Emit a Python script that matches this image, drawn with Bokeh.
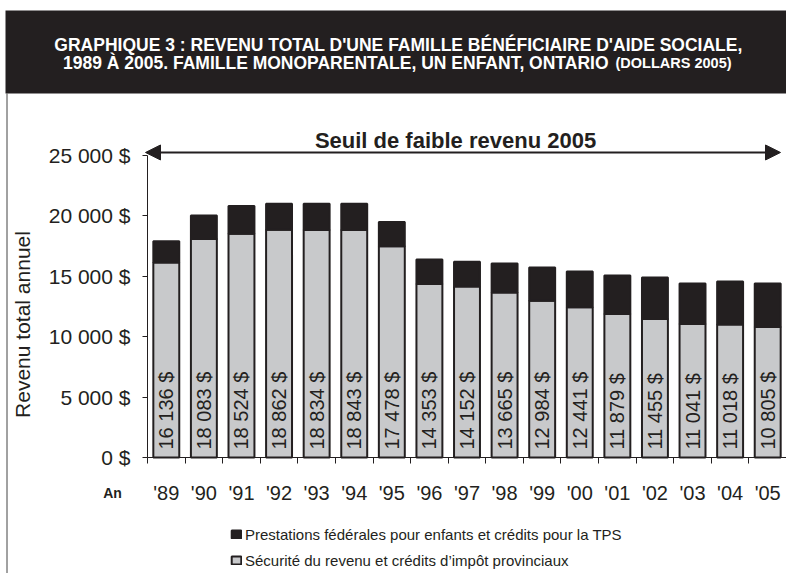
import math
from bokeh.plotting import figure
from bokeh.models import (Range1d, FixedTicker, Arrow, NormalHead, Legend,
                          LegendItem, ColumnDataSource)
from bokeh.core.properties import value
from bokeh.embed import file_html
from bokeh.resources import INLINE

# ---------------- data ----------------
years = ["'89", "'90", "'91", "'92", "'93", "'94", "'95", "'96", "'97", "'98",
         "'99", "'00", "'01", "'02", "'03", "'04", "'05"]
securite = [16136, 18083, 18524, 18862, 18834, 18843, 17478, 14353, 14152, 13665,
            12984, 12441, 11879, 11455, 11041, 11018, 10805]
federal = [1760, 1950, 2300, 2140, 2170, 2160, 2020, 2040, 2050, 2400,
           2750, 2960, 3190, 3450, 3360, 3550, 3600]
y_ticks = [0, 5000, 10000, 15000, 20000, 25000]
seuil = 25250
seuil_label = "Seuil de faible revenu 2005"
legend_labels = ["Prestations fédérales pour enfants et crédits pour la TPS",
                 "Sécurité du revenu et crédits d\u2019impôt provinciaux"]
title_1 = "GRAPHIQUE 3 : REVENU TOTAL D'UNE FAMILLE BÉNÉFICIAIRE D'AIDE SOCIALE,"
title_2a = "1989 À 2005. FAMILLE MONOPARENTALE, UN ENFANT, ONTARIO"
title_2b = "(DOLLARS 2005)"
y_axis_label = "Revenu total annuel"
x_axis_label = "An"

# ---------------- style / layout ----------------
FONT = "Liberation Sans"
INK = "#231f20"
GRAY = "#c8c9cb"
W, H = 786, 573
n = len(years)

# pixel -> data helpers (the frame covers the whole canvas)
X0, STEP = 147.0, 639.0 / n      # x of the y axis, px per category
Y0, PXK = 457.0, 302.0 / 25000   # y of zero, px per dollar


def dx(xp):
    return -0.5 + (xp - X0) / STEP


def dy(yp):
    return (Y0 - yp) / PXK


p = figure(width=W, height=H, x_range=Range1d(dx(0), dx(W)),
           y_range=Range1d(dy(H), dy(0)), output_backend="svg",
           toolbar_location=None, min_border=0)
p.grid.visible = False
p.outline_line_color = None

# ---------------- header ----------------
p.quad(left=dx(5), right=dx(W), bottom=dy(93), top=dy(10), fill_color=INK, line_color=None)
p.segment(x0=dx(6.5), y0=dy(93), x1=dx(6.5), y1=dy(H), line_color="#444444", line_width=1)
p.text(x=[dx(398)], y=[dy(44)], text=[title_1], text_font=value(FONT), text_font_style="bold",
       text_font_size="17.5px", text_color="white", text_align="center",
       text_baseline="alphabetic")
p.text(x=[dx(608)], y=[dy(62)], text=[title_2a], text_font=value(FONT), text_font_style="bold",
       text_font_size="17.5px", text_color="white", text_align="right",
       text_baseline="alphabetic")
p.text(x=[dx(615)], y=[dy(62)], text=[title_2b], text_font=value(FONT), text_font_style="bold",
       text_font_size="14.5px", text_color="white", text_align="left",
       text_baseline="alphabetic")

# ---------------- bars ----------------
xs = list(range(n))
labels = [f"{v:,}".replace(",", " ") + " $" for v in securite]
src = ColumnDataSource(dict(x=xs, securite=securite, federal=federal, lab=labels))

r_sec, r_fed = p.vbar_stack(["securite", "federal"], x="x", width=0.69, source=src,
                            fill_color=[GRAY, INK], line_color=INK, line_width=2)

p.text(x="x", y=660, text="lab", source=src, angle=math.pi / 2, text_align="left",
       text_baseline="middle", text_font=value(FONT), text_font_size="20px", text_color=INK)

# ---------------- low-income threshold arrow ----------------
p.add_layout(Arrow(start=NormalHead(size=15, fill_color=INK, line_color=INK),
                   end=NormalHead(size=15, fill_color=INK, line_color=INK),
                   x_start=dx(145), y_start=seuil, x_end=dx(780), y_end=seuil,
                   line_color=INK, line_width=2))
p.text(x=[dx(455)], y=[dy(140)], text=[seuil_label], text_font=value(FONT),
       text_font_style="bold", text_font_size="22px", text_color=INK,
       text_align="center", text_baseline="alphabetic")

# ---------------- y axis ----------------
yax = p.yaxis[0]
yax.fixed_location = -0.5
yax.ticker = FixedTicker(ticks=y_ticks)
yax.bounds = (0, 25000)
yax.major_label_overrides = {t: f"{t:,} $".replace(",", " ") for t in y_ticks}
yax.major_label_text_font = FONT
yax.major_label_text_font_size = "21px"
yax.major_label_text_color = INK
yax.major_label_standoff = 12
yax.major_tick_out = 5
yax.major_tick_in = 0
yax.minor_tick_line_color = None
yax.axis_line_color = INK
yax.major_tick_line_color = INK

# y axis title (placed like the reference, a little below the axis centre)
p.text(x=[dx(22)], y=[dy(324)], text=[y_axis_label], angle=math.pi / 2,
       text_font=value(FONT), text_font_size="21px", text_color=INK,
       text_align="center", text_baseline="middle")

# ---------------- x axis ----------------
xax = p.xaxis[0]
xax.fixed_location = 0
xax.bounds = (-0.5, n - 0.5)
xax.ticker = FixedTicker(ticks=xs, minor_ticks=[i - 0.5 for i in range(n + 1)])
xax.major_label_overrides = {i: y for i, y in enumerate(years)}
xax.major_label_text_font = FONT
xax.major_label_text_font_size = "20px"
xax.major_label_text_color = INK
xax.major_label_standoff = 18
xax.major_tick_line_color = None
xax.minor_tick_line_color = INK
xax.minor_tick_out = 6
xax.minor_tick_in = 0
xax.axis_line_color = INK

p.text(x=[dx(112)], y=[dy(492)], text=[x_axis_label], text_font=value(FONT),
       text_font_style="bold", text_font_size="14px", text_color=INK,
       text_align="center", text_baseline="middle")

# ---------------- legend ----------------
legend = Legend(items=[LegendItem(label=legend_labels[0], renderers=[r_fed]),
                       LegendItem(label=legend_labels[1], renderers=[r_sec])],
                location=(230, H - 570), orientation="vertical",
                padding=0, margin=0, spacing=6, glyph_width=12, glyph_height=10,
                label_height=20, label_standoff=3, background_fill_alpha=0,
                border_line_color=None, label_text_font=FONT,
                label_text_font_size="15px", label_text_color=INK)
p.add_layout(legend)

open("out.html", "w").write(file_html(p, INLINE))
